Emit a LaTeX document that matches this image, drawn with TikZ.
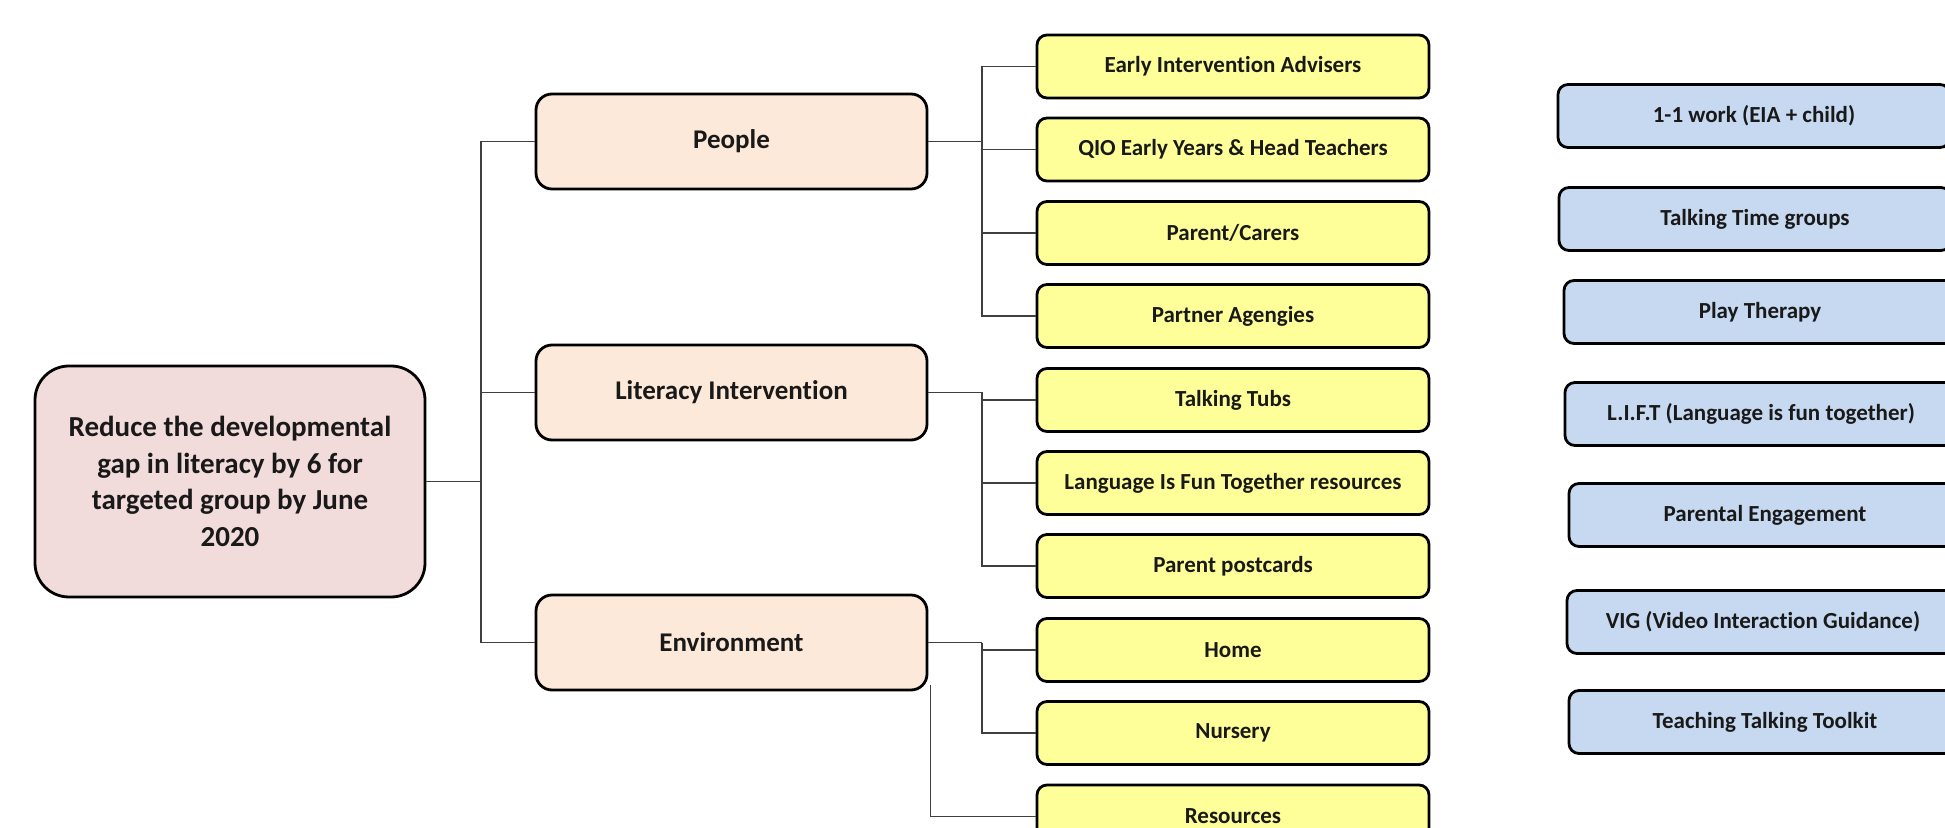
\documentclass[tikz,border=0pt]{standalone}
\usepackage{fontspec}
\setmainfont{Carlito}[Ligatures=NoCommon]
\usetikzlibrary{positioning}

\definecolor{goalpink}{HTML}{F2DCDB}
\definecolor{midpeach}{HTML}{FDE9D9}
\definecolor{leafyellow}{HTML}{FFFF99}
\definecolor{actblue}{HTML}{C6D9F1}
\definecolor{linkgray}{HTML}{3F3F3F}

\begin{document}
\begin{tikzpicture}[x=0.5pt, y=-0.5pt,
    box/.style={draw=black, line width=1.4pt, rectangle, align=center,
                font=\bfseries, text=black!90},
    goalbox/.style={box, fill=goalpink, rounded corners=17pt,
                minimum width=195pt, minimum height=115.5pt,
                font=\fontsize{14.5}{18.3}\selectfont\bfseries},
    midbox/.style={box, fill=midpeach, rounded corners=8pt,
                minimum width=195.5pt, minimum height=47.5pt,
                font=\fontsize{13.5}{16}\selectfont\bfseries},
    leafbox/.style={box, fill=leafyellow, rounded corners=5pt,
                minimum width=196pt, minimum height=31.5pt,
                font=\fontsize{11.5}{14}\selectfont\bfseries},
    actbox/.style={box, fill=actblue, rounded corners=5pt,
                minimum width=196pt, minimum height=31.5pt,
                font=\fontsize{11.5}{14}\selectfont\bfseries},
    link/.style={draw=linkgray, line width=0.8pt}]

    % Page size (pixels of the chart)
    \useasboundingbox (0,0) rectangle (1945,828);
    \clip (0,0) rectangle (1945,828);

    % Columns
    \def\xgoal{230}
    \def\xmid{731.5}
    \def\xleaf{1233}
    \def\xtrunk{481}
    \def\xbranch{982}

    % Goal
    \node[goalbox] (goal) at (\xgoal, 481.5) {Reduce the developmental\\gap in literacy by 6 for\\targeted group by June\\2020};

    % Main areas
    \node[midbox] (people) at (\xmid, 141.5) {People};
    \node[midbox] (literacy) at (\xmid, 392.5) {Literacy Intervention};
    \node[midbox] (environment) at (\xmid, 642.5) {Environment};

    % Leaves
    \node[leafbox] (advisers) at (\xleaf, 66.5) {Early Intervention Advisers};
    \node[leafbox] (teachers) at (\xleaf, 149.5) {QIO Early Years \& Head Teachers};
    \node[leafbox] (carers) at (\xleaf, 233) {Parent/Carers};
    \node[leafbox] (partners) at (\xleaf, 316) {Partner Agengies};
    \node[leafbox] (tubs) at (\xleaf, 400) {Talking Tubs};
    \node[leafbox] (lift) at (\xleaf, 483) {Language Is Fun Together resources};
    \node[leafbox] (postcards) at (\xleaf, 566) {Parent postcards};
    \node[leafbox] (home) at (\xleaf, 650) {Home};
    \node[leafbox] (nursery) at (\xleaf, 733) {Nursery};
    \node[leafbox] (resources) at (\xleaf, 816.5) {Resources};

    % Activities
    \node[actbox] (work) at (1754, 116) {1-1 work (EIA + child)};
    \node[actbox] (talktime) at (1755, 219) {Talking Time groups};
    \node[actbox] (play) at (1760, 312) {Play Therapy};
    \node[actbox] (liftact) at (1761, 414) {L.I.F.T (Language is fun together)};
    \node[actbox] (engage) at (1765, 515) {Parental Engagement};
    \node[actbox] (vig) at (1763, 622) {VIG (Video Interaction Guidance)};
    \node[actbox] (toolkit) at (1765, 722) {Teaching Talking Toolkit};

    % Joints
    \coordinate (trunk) at (\xtrunk, 481.5);
    \coordinate (pjoin) at (\xbranch, 141.5);
    \coordinate (ljoin) at (\xbranch, 392.5);
    \coordinate (ejoin) at (\xbranch, 642.5);

    % Goal to main areas
    \draw[link] (goal.east) -- (trunk);
    \foreach \n in {people, literacy, environment}
        \draw[link] (trunk) |- (\n.west);

    % Main areas to leaves
    \draw[link] (people.east) -- (pjoin);
    \foreach \n in {advisers, teachers, carers, partners}
        \draw[link] (pjoin) |- (\n.west);
    \draw[link] (literacy.east) -- (ljoin);
    \foreach \n in {tubs, lift, postcards}
        \draw[link] (ljoin) |- (\n.west);
    \draw[link] (environment.east) -- (ejoin);
    \foreach \n in {home, nursery}
        \draw[link] (ejoin) |- (\n.west);
    \draw[link] ([xshift=1pt, yshift=3pt]environment.south east) |- (resources.west);

\end{tikzpicture}
\end{document}
